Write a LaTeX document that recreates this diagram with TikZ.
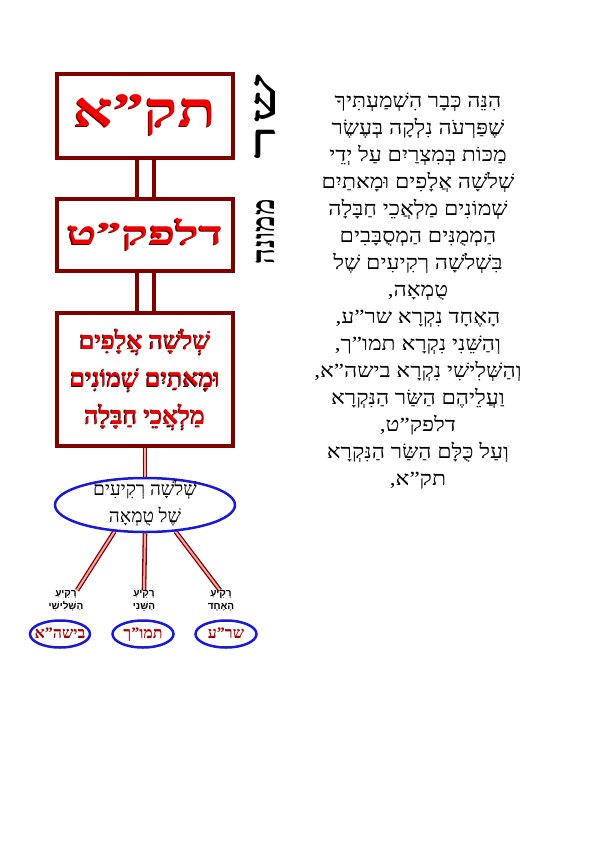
\documentclass[tikz,border=0pt]{standalone}
\usepackage{fontspec}
\usepackage{graphicx}
\usetikzlibrary{shapes.geometric,calc}
\setmainfont{Liberation Serif}
\newfontfamily\hebfont[Script=Hebrew]{Liberation Serif}
\newfontfamily\hebsans[Script=Hebrew]{Liberation Sans}
\TeXXeTstate=1
\definecolor{boxred}{RGB}{128,0,0}
\definecolor{ellblue}{RGB}{25,25,215}
\definecolor{txtred}{RGB}{240,0,0}
\definecolor{ovred}{RGB}{165,0,0}
\newcommand\heb[1]{\beginR #1\endR}
% shadowed text: argument already contains \beginR ... \endR
\newcommand\shd[2]{\leavevmode\rlap{\kern-0.9pt\raisebox{-0.9pt}{\color{#1}#2}}#2}
\newcommand\zbox[1]{\smash{\makebox[0pt]{#1}}}
\pgfdeclarelayer{bg}
\pgfsetlayers{bg,main}
\tikzset{
  bigbox/.style={draw=boxred, line width=4pt, fill=white, inner sep=0pt},
  dblconn/.style={draw=boxred, line width=4pt, double=white, double distance=13pt},
  thinconn/.style={draw=boxred, line width=1.3pt, double=red!35!white, double distance=2pt},
  ovalnode/.style={ellipse, draw=ellblue, line width=2.5pt, fill=white, inner sep=0pt},
  vertlab/.style={rotate=90, inner sep=0pt, font=\hebfont\bfseries},
  smalllab/.style={align=center, inner sep=0pt, font=\hebsans\bfseries\fontsize{10}{13}\selectfont},
}
\begin{document}
\begin{tikzpicture}[x=1pt,y=-1pt]
\useasboundingbox (0,0) rectangle (602,843);
\begin{pgfonlayer}{bg}
\fill[white] (0,0) rectangle (602,843);
\end{pgfonlayer}

% boxes
\node[bigbox, minimum width=176, minimum height=84] (b1) at (145,116)
  {\hebfont\bfseries\fontsize{48}{50}\selectfont\color{txtred}\scalebox{1.3}[1]{\shd{boxred!70!black}{\beginR תק”א\endR}}};
\node[bigbox, minimum width=176, minimum height=72] (b2) at (145,235)
  {\hebfont\bfseries\fontsize{32}{34}\selectfont\color{txtred}\scalebox{1.56}[1]{\shd{boxred!70!black}{\beginR דלפק”ט\endR}}};
\node[bigbox, minimum width=176, minimum height=133] (b3) at (145,379)
  {\hebfont\bfseries\fontsize{25}{37.5}\selectfont\color{txtred}\begin{tabular}{@{}c@{}}%
   \shd{black}{\beginR שְׁלֹשָׁה אֲלָפִים\endR}\\
   \shd{black}{\beginR וּמָאתַיִם שְׁמוֹנִים\endR}\\
   \shd{black}{\beginR מַלְאֲכֵי חַבָּלָה\endR}\end{tabular}};

% ellipse
\node[ovalnode, minimum width=180, minimum height=54] (ell) at (145,505)
  {\zbox{\raisebox{-3pt}{\hebfont\fontsize{19}{27}\selectfont\begin{tabular}{@{}c@{}}\heb{שְׁלֹשָׁה רְקִיעִים}\\
   \heb{שֶׁל טֻמְאָה}\end{tabular}}}};

% small labels
\node[smalllab] (labL) at (66,601) {\heb{רָקִיעַ}\\\heb{הַשְּׁלִישִׁי}};
\node[smalllab] (labM) at (144,601) {\heb{רָקִיעַ}\\\heb{הַשֵּׁנִי}};
\node[smalllab] (labR) at (221,601) {\heb{רָקִיעַ}\\\heb{הָאֶחָד}};

% bottom ovals
\node[ovalnode, minimum width=60, minimum height=27] (oL) at (60,634)
  {\zbox{\raisebox{-4.5pt}{\hebfont\bfseries\fontsize{16}{18}\selectfont\color{ovred}\heb{בישה”א}}}};
\node[ovalnode, minimum width=61, minimum height=27] (oM) at (143,634)
  {\zbox{\raisebox{-4.5pt}{\hebfont\bfseries\fontsize{16}{18}\selectfont\color{ovred}\heb{תמו”ך}}}};
\node[ovalnode, minimum width=61, minimum height=27] (oR) at (226,634)
  {\zbox{\raisebox{-4.5pt}{\hebfont\bfseries\fontsize{16}{18}\selectfont\color{ovred}\heb{שר”ע}}}};

% vertical labels
\node[vertlab] (sar) at (265,117) {\resizebox*{85pt}{21pt}{\heb{שר}}};
\node[vertlab] (memune) at (265,232) {\resizebox*{65pt}{19pt}{\heb{ממונה}}};

% connectors
\begin{pgfonlayer}{bg}
\draw[dblconn] (b1.south) -- (b2.north);
\draw[dblconn] (b2.south) -- (b3.north);
\draw[thinconn] (b3.south) -- (ell.north);
\draw[thinconn] (ell.221) -- ([xshift=11pt]labL.north);
\draw[thinconn] (ell.south) -- (labM.north);
\draw[thinconn] (ell.319) -- ([xshift=-1pt]labR.north);
\end{pgfonlayer}

% paragraph
\node[inner sep=0pt] (para) at (418,291) {\scalebox{1.15}[1]{\hebfont\fontsize{20}{27}\selectfont\begin{tabular}{@{}c@{}}%
\heb{הִנֵּה כְּבָר הִשְׁמַעְתִּיךָ}\\
\heb{שֶׁפַּרְעֹה נִלְקָה בְּעֶשֶׂר}\\
\heb{מַכּוֹת בְּמִצְרַיִם עַל יְדֵי}\\
\heb{שְׁלֹשָׁה אֲלָפִים וּמָאתַיִם}\\
\heb{שְׁמוֹנִים מַלְאֲכֵי חַבָּלָה}\\
\heb{הַמְמֻנִּים הַמְסֻבָּבִים}\\
\heb{בִּשְׁלֹשָׁה רְקִיעִים שֶׁל}\\
\heb{טֻמְאָה,}\\
\heb{הָאֶחָד נִקְרָא שר”ע,}\\
\heb{וְהַשֵּׁנִי נִקְרָא תמו”ך,}\\
\heb{וְהַשְּׁלִישִׁי נִקְרָא בישה”א,}\\
\heb{וַעֲלֵיהֶם הַשַּׂר הַנִּקְרָא}\\
\heb{דלפק”ט,}\\
\heb{וְעַל כֻּלָּם הַשַּׂר הַנִּקְרָא}\\
\heb{תק”א,}\end{tabular}}};
\end{tikzpicture}
\end{document}
